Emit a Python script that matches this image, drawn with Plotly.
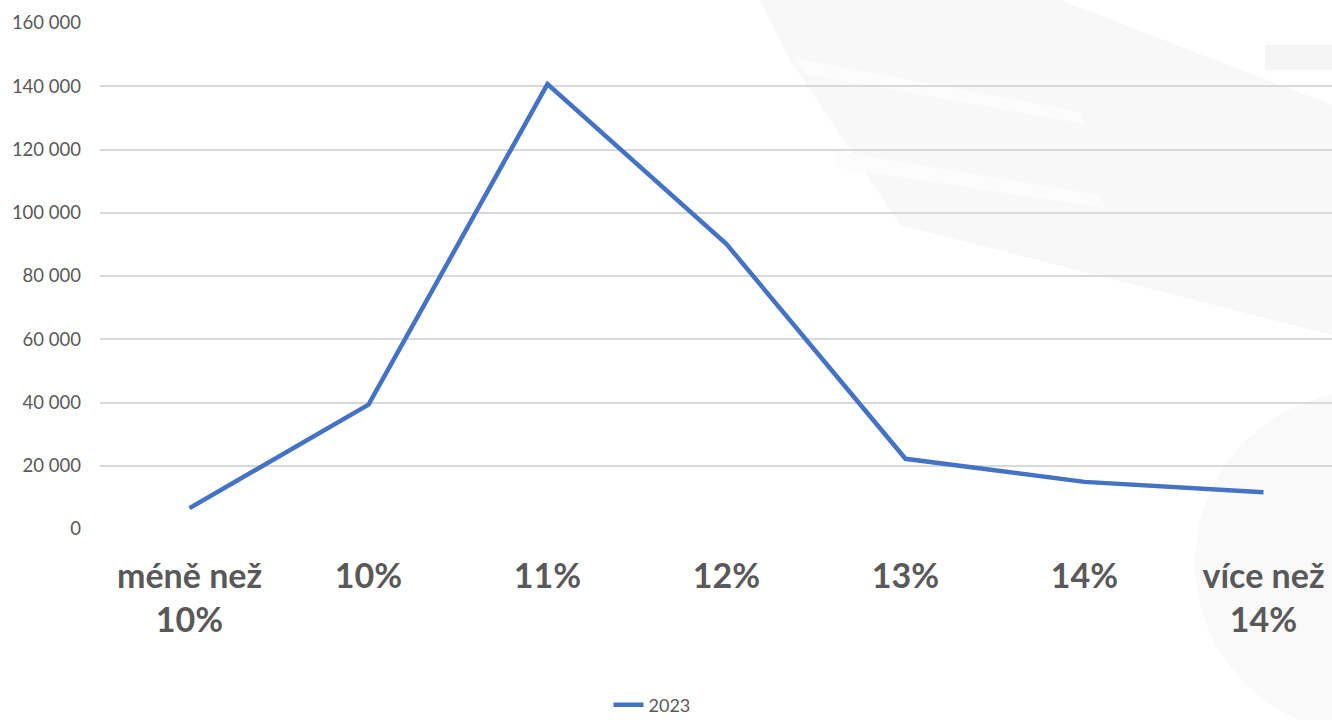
import plotly.graph_objects as go

categories = ["méně než<br>10%", "10%", "11%", "12%", "13%", "14%", "více než<br>14%"]
values_2023 = [6600, 39300, 140700, 90100, 22200, 14900, 11600]
series_name = "2023"
y_ticks = [0, 20000, 40000, 60000, 80000, 100000, 120000, 140000, 160000]

W, H = 1332, 720
L, R, T, B = 100, 0, 23, 191
pw, ph = W - L - R, H - T - B


def px(x):
    return (x - L) / pw


def py(y):
    return (H - B - y) / ph


def path(points):
    s = "M " + " L ".join(f"{px(x):.4f},{py(y):.4f}" for x, y in points) + " Z"
    return s


fig = go.Figure()
fig.add_trace(go.Scatter(
    x=list(range(len(categories))), y=values_2023, mode="lines", name=series_name,
    line=dict(color="#4472C4", width=4.5),
))

wm = "#f8f8f8"
shapes = [
    dict(type="path", path=path([(760, 0), (1060, 0), (1332, 105), (1332, 335), (900, 225), (790, 60)]),
         xref="paper", yref="paper", fillcolor=wm, line=dict(width=0), layer="below"),
    dict(type="path", path=path([(795, 58), (1080, 112), (1085, 124), (805, 74)]),
         xref="paper", yref="paper", fillcolor="#fcfcfc", line=dict(width=0), layer="below"),
    dict(type="path", path=path([(830, 150), (1100, 195), (1105, 208), (840, 168)]),
         xref="paper", yref="paper", fillcolor="#fcfcfc", line=dict(width=0), layer="below"),
    dict(type="rect", x0=px(1265), x1=px(1340), y0=py(70), y1=py(45),
         xref="paper", yref="paper", fillcolor="#f5f5f5", line=dict(width=0), layer="below"),
    dict(type="circle", x0=px(1195), x1=px(1545), y0=py(735), y1=py(390),
         xref="paper", yref="paper", fillcolor="#f9f9f9", line=dict(width=0), layer="below"),
]

fig.update_layout(
    width=W, height=H,
    margin=dict(l=L, r=R, t=T, b=B, autoexpand=False),
    paper_bgcolor="white", plot_bgcolor="rgba(0,0,0,0)",
    font=dict(family="Lato, Open Sans, sans-serif", color="#595959"),
    separators=", ",
    shapes=shapes,
    showlegend=True,
    legend=dict(orientation="h", x=px(652), xanchor="center", y=py(705), yanchor="middle",
                font=dict(size=18, color="#595959"), bgcolor="rgba(0,0,0,0)"),
    xaxis=dict(
        tickmode="array", tickvals=list(range(len(categories))), ticktext=categories,
        range=[-0.5, -0.5 + pw / 179.0], showgrid=False, zeroline=False, showline=False,
        ticks="", tickfont=dict(size=34, color="#595959", family="Lato, sans-serif", weight="bold"),
        ticklabelstandoff=24, automargin=False,
    ),
    yaxis=dict(
        range=[0, 160000], tickvals=y_ticks, tickformat=",d",
        showgrid=True, gridcolor="#d9d9d9", gridwidth=1.5, zeroline=False, showline=False,
        ticks="", tickfont=dict(size=18.5, color="#595959"), ticklabelstandoff=18, automargin=False,
    ),
)

fig.write_html(
    "out.html",
    config={"displayModeBar": False},
    post_script="document.body.style.margin='0';document.body.style.overflow='hidden';",
)
